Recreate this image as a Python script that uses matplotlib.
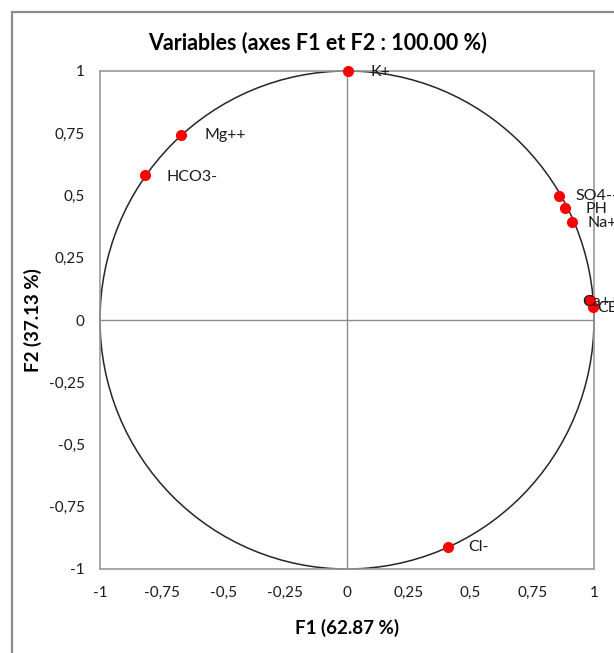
import matplotlib
matplotlib.use("Agg")
import matplotlib.pyplot as plt
from matplotlib.patches import Circle, Rectangle

# Variable coordinates on the first two factor axes
variables = ["K+", "Mg++", "HCO3-", "SO4--", "PH", "Na+", "Ca++", "CE", "Cl-"]
f1 = [0.005, -0.672, -0.818, 0.860, 0.883, 0.910, 0.984, 0.994, 0.409]
f2 = [1.000, 0.743, 0.582, 0.499, 0.449, 0.395, 0.080, 0.053, -0.912]

# Label offsets in pixels (right, down) relative to each point
label_offsets = [(22, 1), (23, 0), (22, 2), (16, 0), (20, 1), (16, 1), (-8, 2), (5, 1), (20, 0)]

ticks = [-1, -0.75, -0.5, -0.25, 0, 0.25, 0.5, 0.75, 1]
tick_labels = ["-1", "-0,75", "-0,5", "-0,25", "0", "0,25", "0,5", "0,75", "1"]

title = "Variables (axes F1 et F2 : 100.00 %)"
xlabel = "F1 (62.87 %)"
ylabel = "F2 (37.13 %)"

W, H = 614, 653
plt.rcParams["font.family"] = ["Lato", "DejaVu Sans"]
fig = plt.figure(figsize=(W / 100, H / 100), dpi=100)

# outer chart frame
fig.patches.append(Rectangle((12 / W, -0.1), 1.2, (H - 12) / H + 0.1, transform=fig.transFigure,
                             fill=False, edgecolor="#8c8c8c", linewidth=1.6, zorder=0))

left, right, top, bottom = 100, 594, 71, 569
ax = fig.add_axes([left / W, 1 - bottom / H, (right - left) / W, (bottom - top) / H])
ax.set_xlim(-1, 1)
ax.set_ylim(-1, 1)

for s in ax.spines.values():
    s.set_color("#9a9a9a")
    s.set_linewidth(1.2)

ax.axhline(0, color="#8c8c8c", lw=1.0, zorder=1)
ax.axvline(0, color="#8c8c8c", lw=1.0, zorder=1)
ax.add_patch(Circle((0, 0), 1, fill=False, edgecolor="#262626", lw=1.1, zorder=2, clip_on=False))

ax.set_xticks(ticks)
ax.set_xticklabels(tick_labels)
ax.set_yticks(ticks)
ax.set_yticklabels(tick_labels)
ax.tick_params(axis="x", length=0, pad=12, labelsize=11, labelcolor="#1a1a1a")
ax.tick_params(axis="y", length=0, pad=11, labelsize=11, labelcolor="#1a1a1a")

ax.plot(f1, f2, "o", color="#ff0000", markersize=7, zorder=4, clip_on=False)
for name, x, y, (dx, dy) in zip(variables, f1, f2, label_offsets):
    ax.annotate(name, (x, y), xytext=(dx * 0.72, -dy * 0.72), textcoords="offset points",
                ha="left", va="center", fontsize=11.5, color="#1a1a1a",
                annotation_clip=False, zorder=5)

fig.text(318 / W, 1 - 43 / H, title, ha="center", va="center", fontsize=15.5, fontweight="bold")
fig.text(347 / W, 1 - 628 / H, xlabel, ha="center", va="center", fontsize=13.5, fontweight="bold")
fig.text(33 / W, 1 - 320 / H, ylabel, ha="center", va="center", fontsize=13.5, fontweight="bold",
         rotation=90)

fig.savefig("out.png", dpi=100)
